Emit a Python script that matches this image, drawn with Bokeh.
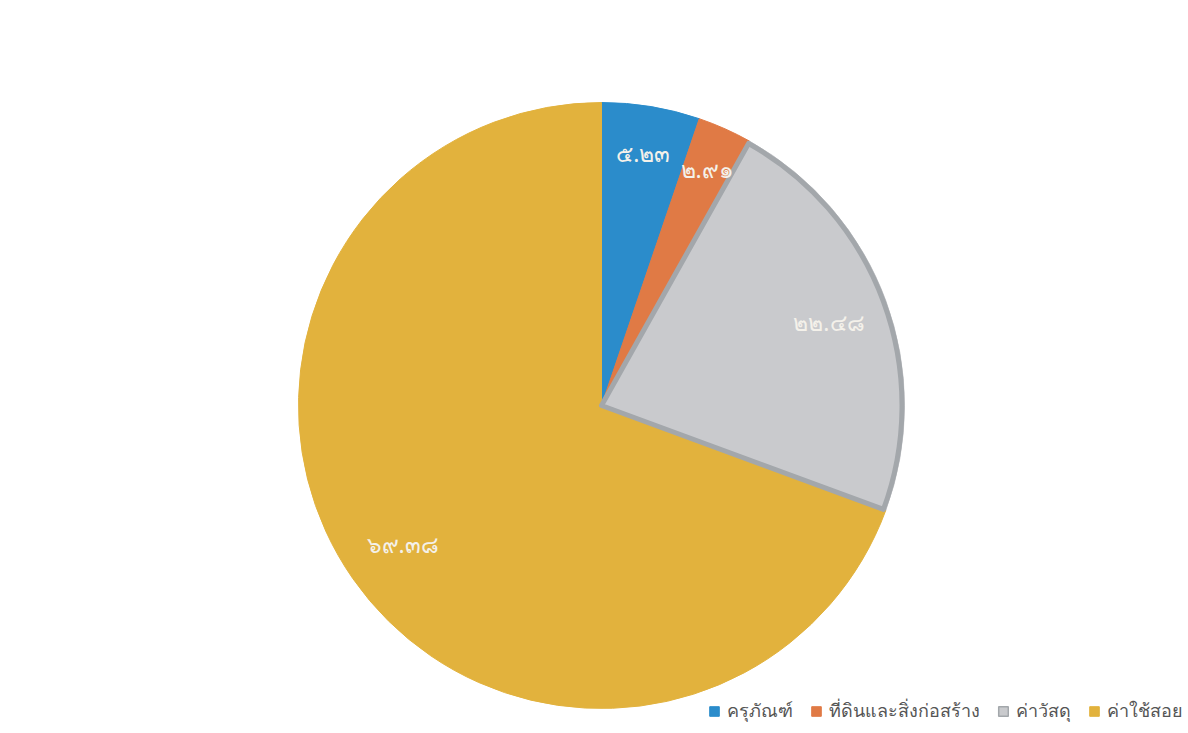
import math
from bokeh.plotting import figure
from bokeh.models import ColumnDataSource, Legend, LegendItem, Range1d, CDSView, IndexFilter
from bokeh.core.properties import value
from bokeh.embed import file_html
from bokeh.resources import INLINE

categories = ["ครุภัณฑ์", "ที่ดินและสิ่งก่อสร้าง", "ค่าวัสดุ", "ค่าใช้สอย"]
values = [5.23, 2.91, 22.48, 69.38]
labels = ["๕.๒๓", "๒.๙๑", "๒๒.๔๘", "๖๙.๓๘"]
colors = ["#2b8ccb", "#e07a45", "#c9cacd", "#e2b23d"]
edge_colors = ["#2b8ccb", "#e07a45", "#a3a7ab", "#e2b23d"]

W, H = 1183, 725
cx, cy, R = 601, H - 405, 303
label_frac = [0.845, 0.855, 0.8, 0.8]

total = sum(values)
starts, ends, lx, ly = [], [], [], []
cum = 0.0
for v, f in zip(values, label_frac):
    a0 = math.pi / 2 - 2 * math.pi * cum / total
    cum += v
    a1 = math.pi / 2 - 2 * math.pi * cum / total
    starts.append(a0)
    ends.append(a1)
    mid = (a0 + a1) / 2
    lx.append(cx + f * R * math.cos(mid))
    ly.append(cy + f * R * math.sin(mid))

src = ColumnDataSource(dict(start=starts, end=ends, color=colors,
                            lx=lx, ly=ly, label=labels, cat=categories))

p = figure(width=W, height=H, output_backend="svg", toolbar_location=None,
           x_range=Range1d(0, W), y_range=Range1d(0, H), min_border=0,
           background_fill_color="white", border_fill_color="white")
p.axis.visible = False
p.grid.visible = False
p.outline_line_color = None

p.wedge(x=cx, y=cy, radius=R, start_angle="start", end_angle="end", direction="clock",
        fill_color="color", line_color="color", line_width=1, source=src)
# gray slice border
gs = ColumnDataSource(dict(start=[starts[2]], end=[ends[2]]))
p.wedge(x=cx, y=cy, radius=R - 2.5, start_angle="start", end_angle="end", direction="clock",
        fill_color=None, line_color="#a3a7ab", line_width=5, line_join="round", source=gs)

p.text(x="lx", y="ly", text="label", source=src, text_align="center", text_baseline="middle",
       text_color="#f4f1ea", text_font_size="23px",
       text_font=value("Noto Sans"))

items = []
for i, (c, e, name) in enumerate(zip(colors, edge_colors, categories)):
    r = p.rect(x="lx", y="ly", width=0, height=0, source=src,
               view=CDSView(filter=IndexFilter([i])),
               fill_color=c, line_color=e, line_width=1.5 if i == 2 else 1)
    r.visible = False
    items.append(LegendItem(label=name, renderers=[r]))

legend = Legend(items=items, orientation="horizontal", location="bottom_right",
                label_text_font_size="18px", label_text_color="#555555",
                label_text_font="Noto Sans", glyph_width=12, glyph_height=12,
                spacing=17, label_standoff=7, padding=2, margin=0,
                border_line_color=None, background_fill_alpha=0,
                inactive_fill_alpha=0)
p.add_layout(legend)

open("out.html", "w").write(file_html(p, INLINE))
